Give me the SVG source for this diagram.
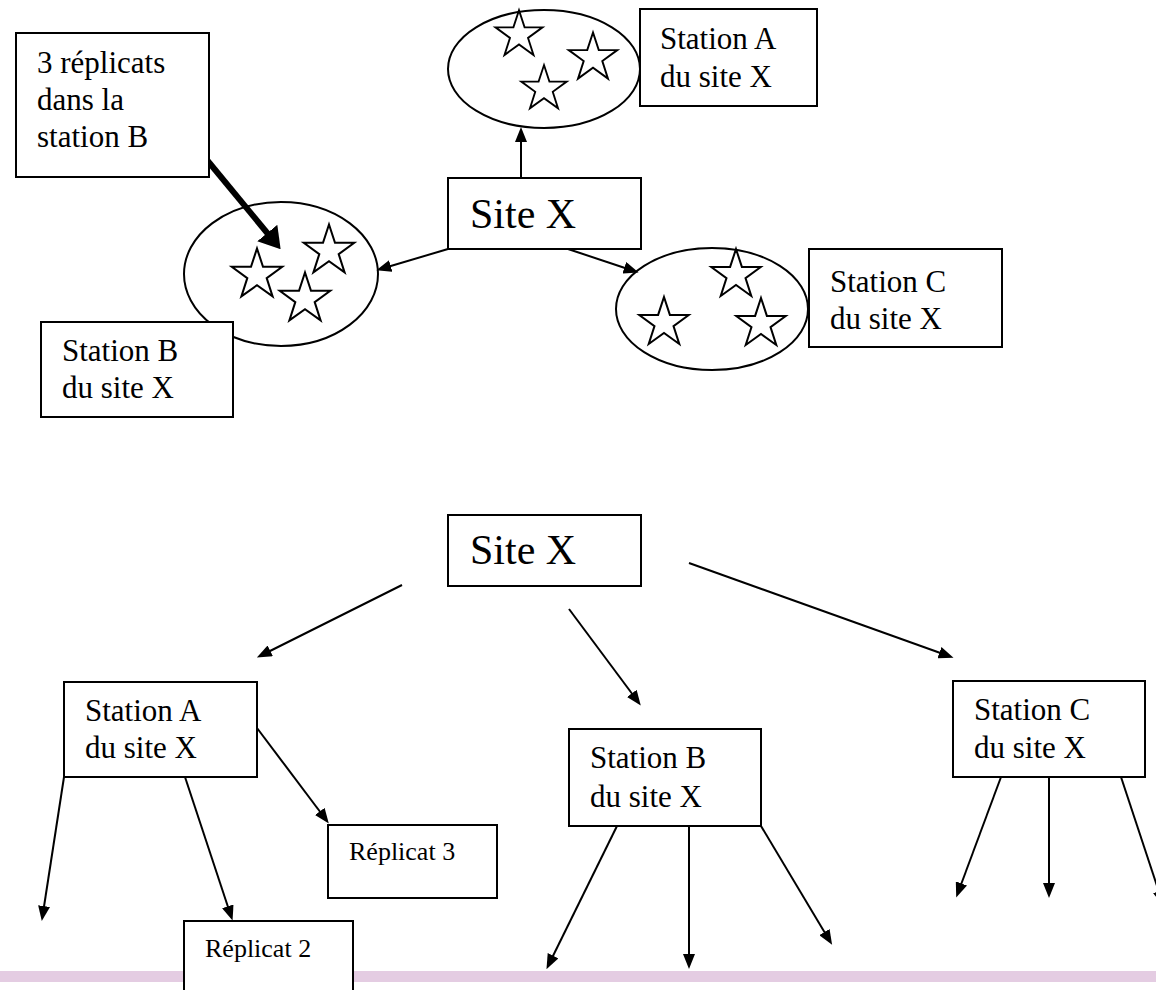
<svg xmlns="http://www.w3.org/2000/svg" width="1156" height="990" viewBox="0 0 1156 990">
<style>
.box{fill:#fff;stroke:#000;stroke-width:2}
.ell{fill:#fff;stroke:#000;stroke-width:2}
.star{fill:#fff;stroke:#000;stroke-width:2;stroke-linejoin:miter}
.t{font-family:"Liberation Serif","Times New Roman",serif;fill:#000}
.lbl{font-size:31px}
.big{font-size:42px}
.sm{font-size:26px}
.ln{stroke:#000;stroke-width:2;fill:none;marker-end:url(#ah)}
.thick{stroke:#000;stroke-width:6;fill:none;marker-end:url(#ahb)}
</style>
<defs>
<marker id="ah" markerUnits="userSpaceOnUse" viewBox="0 0 15 12" markerWidth="15" markerHeight="12" refX="7" refY="6" orient="auto">
<path d="M0,0 L15,6 L0,12 Z" fill="#000"/>
</marker>
<marker id="ahb" markerUnits="userSpaceOnUse" viewBox="0 0 21 26" markerWidth="21" markerHeight="26" refX="9" refY="13" orient="auto">
<path d="M0,0 L21,13 L0,26 Z" fill="#000"/>
</marker>
<path id="star" class="star" d="M0,-26 L5.88,-8.09 L24.73,-8.03 L9.51,3.09 L15.28,21.03 L0,10 L-15.28,21.03 L-9.51,3.09 L-24.73,-8.03 L-5.88,-8.09 Z"/>
</defs>
<rect x="0" y="0" width="1156" height="990" fill="#fff"/>
<rect id="bar" x="0" y="971" width="1156" height="11" fill="#E4CCE2"/>

<g id="ellipse-b">
<ellipse class="ell" cx="281" cy="274" rx="97" ry="72"/>
<use href="#star" transform="translate(257,275) scale(1.02)"/>
<use href="#star" transform="translate(329,251) scale(1.02)"/>
<use href="#star" transform="translate(305,299) scale(1.02)"/>
</g>
<g id="ellipse-a">
<ellipse class="ell" cx="544" cy="69" rx="96" ry="59"/>
<use href="#star" transform="translate(519,35) scale(0.95)"/>
<use href="#star" transform="translate(593,58) scale(0.98)"/>
<use href="#star" transform="translate(544,89) scale(0.92)"/>
</g>
<g id="ellipse-c">
<ellipse class="ell" cx="712" cy="309" rx="96" ry="61"/>
<use href="#star" transform="translate(736,275)"/>
<use href="#star" transform="translate(664,323)"/>
<use href="#star" transform="translate(761,324)"/>
</g>

<g id="connectors">
<line class="ln" x1="521" y1="178" x2="521" y2="135"/>
<line class="ln" x1="448" y1="249" x2="384" y2="268"/>
<line class="ln" x1="568" y1="249" x2="631" y2="270"/>
<line class="thick" x1="207" y1="160" x2="273" y2="240"/>
<line class="ln" x1="402" y1="585" x2="264" y2="654"/>
<line class="ln" x1="569" y1="609" x2="636" y2="699"/>
<line class="ln" x1="689" y1="563" x2="946" y2="655"/>
<line class="ln" x1="257" y1="728" x2="324" y2="817"/>
<line class="ln" x1="185" y1="777" x2="230" y2="913"/>
<line class="ln" x1="64" y1="777" x2="43" y2="913"/>
<line class="ln" x1="617" y1="826" x2="550" y2="962"/>
<line class="ln" x1="689" y1="826" x2="689" y2="961"/>
<line class="ln" x1="761" y1="826" x2="828" y2="938"/>
<line class="ln" x1="1001" y1="777" x2="959" y2="890"/>
<line class="ln" x1="1049" y1="777" x2="1049" y2="890"/>
<line class="ln" x1="1121" y1="777" x2="1161" y2="898"/>
</g>

<g id="note-replicats">
<rect class="box" x="16" y="33" width="193" height="144"/>
<text class="t lbl" x="37" y="73">3 réplicats</text>
<text class="t lbl" x="37" y="110">dans la</text>
<text class="t lbl" x="37" y="147">station B</text>
</g>
<g id="top-site-x">
<rect class="box" x="448" y="178" width="193" height="71"/>
<text class="t big" x="470" y="228">Site X</text>
</g>
<g id="top-station-a">
<rect class="box" x="640" y="9" width="177" height="97"/>
<text class="t lbl" x="660" y="49">Station A</text>
<text class="t lbl" x="660" y="87">du site X</text>
</g>
<g id="top-station-b">
<rect class="box" x="41" y="322" width="192" height="95"/>
<text class="t lbl" x="62" y="361">Station B</text>
<text class="t lbl" x="62" y="398">du site X</text>
</g>
<g id="top-station-c">
<rect class="box" x="809" y="249" width="193" height="98"/>
<text class="t lbl" x="830" y="292">Station C</text>
<text class="t lbl" x="830" y="329">du site X</text>
</g>

<g id="bottom-site-x">
<rect class="box" x="448" y="515" width="193" height="71"/>
<text class="t big" x="470" y="564">Site X</text>
</g>
<g id="bottom-station-a">
<rect class="box" x="64" y="682" width="193" height="95"/>
<text class="t lbl" x="85" y="721">Station A</text>
<text class="t lbl" x="85" y="758">du site X</text>
</g>
<g id="bottom-station-b">
<rect class="box" x="569" y="729" width="192" height="97"/>
<text class="t lbl" x="590" y="768">Station B</text>
<text class="t lbl" x="590" y="807">du site X</text>
</g>
<g id="bottom-station-c">
<rect class="box" x="953" y="681" width="192" height="96"/>
<text class="t lbl" x="974" y="720">Station C</text>
<text class="t lbl" x="974" y="758">du site X</text>
</g>
<g id="replicat-3">
<rect class="box" x="328" y="825" width="169" height="73"/>
<text class="t sm" x="349" y="860">Réplicat 3</text>
</g>
<g id="replicat-2">
<rect class="box" x="184" y="921" width="169" height="80"/>
<text class="t sm" x="205" y="957">Réplicat 2</text>
</g>
</svg>
